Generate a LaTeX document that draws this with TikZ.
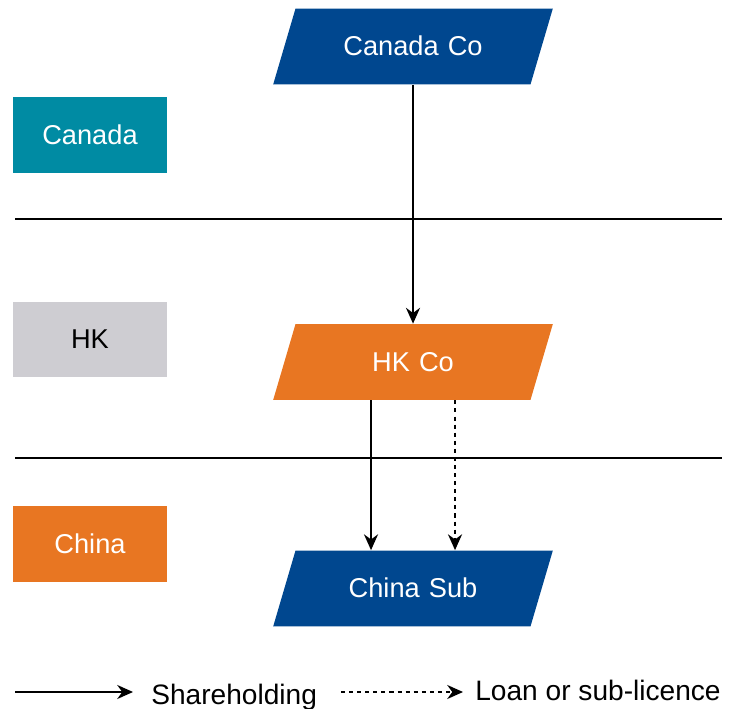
\documentclass[tikz,border=0pt]{standalone}
\usepackage{fontspec}
\setmainfont{Liberation Sans}
\usetikzlibrary{arrows.meta,shapes.geometric,calc}

\definecolor{coblue}{RGB}{0,71,143}
\definecolor{coteal}{RGB}{0,139,163}
\definecolor{cogray}{RGB}{206,205,210}
\definecolor{coorange}{RGB}{232,118,34}

\begin{document}
\begin{tikzpicture}[x=0.02cm,y=-0.02cm,>={Stealth[length=9pt,width=8pt]},
      company/.style={trapezium,trapezium left angle=73.6,trapezium right angle=106.4,
        text width=4.70cm,align=center,inner sep=0pt,
        text height=0.82cm+0.36em,text depth=0.70cm-0.36em,
        text=white,font=\fontsize{15.5}{18}\selectfont},
      region/.style={rectangle,minimum width=3.08cm,minimum height=1.52cm,
        inner sep=0pt,text=white,font=\fontsize{15.5}{18}\selectfont},
      link/.style={->,line width=1.1pt},
      loan/.style={link,dash pattern=on 2.3pt off 2.3pt},
      legend/.style={anchor=base west,inner sep=0pt,font=\fontsize{16}{19}\selectfont}]

    \useasboundingbox (0,0) rectangle (734,709);

    % regions
    \node[region,fill=coteal] (canada) at (90,135) {Canada};
    \node[region,fill=cogray,text=black] (hk) at (90,339.5) {HK};
    \node[region,fill=coorange] (china) at (90,544) {China};

    % borders
    \draw[line width=1.1pt] (15,219) -- (722,219);
    \draw[line width=1.1pt] (15,458) -- (722,458);

    % companies
    \node[company,fill=coblue] (canadaco) at (413,46.5) {Canada Co};
    \node[company,fill=coorange] (hkco) at (413,362) {HK Co};
    \node[company,fill=coblue] (chinasub) at (413,588.5) {China Sub};

    \draw[link] (canadaco.south) -- (hkco.north);
    \draw[link] ($(hkco.south)+(-42,0)$) -- ($(chinasub.north)+(-42,0)$);
    \draw[loan] ($(hkco.south)+(42,0)$) -- ($(chinasub.north)+(42,0)$);

    % legend
    \coordinate (share1) at (15,692);
    \coordinate (share2) at (133,692);
    \coordinate (loan1) at (341,692);
    \coordinate (loan2) at (463,692);
    \draw[link] (share1) -- (share2);
    \draw[loan] (loan1) -- (loan2);
    \node[legend] (sharetext) at (151,704) {Shareholding};
    \node[legend] (loantext) at (475,700) {Loan or sub-licence};

\end{tikzpicture}
\end{document}
